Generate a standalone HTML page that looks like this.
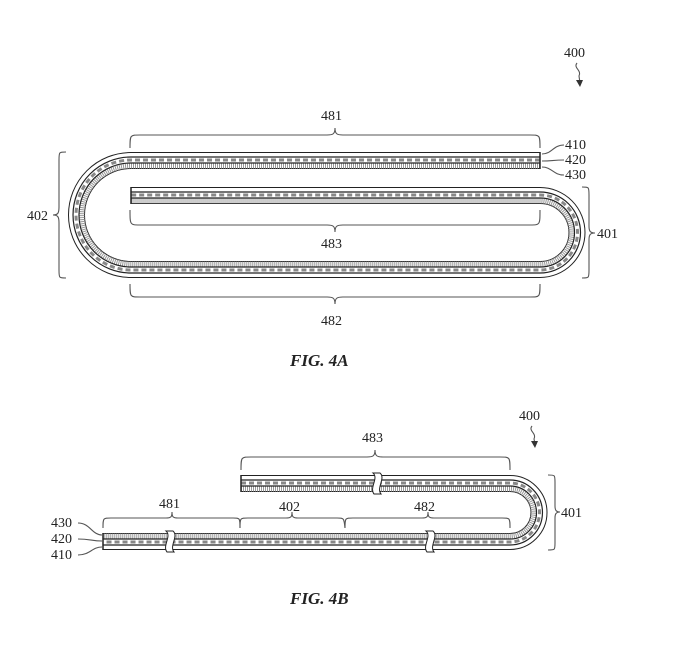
<!DOCTYPE html>
<html><head><meta charset="utf-8"><style>
html,body{margin:0;padding:0;background:#fff;}
svg{display:block;}
text{font-family:"Liberation Serif",serif;font-size:14px;fill:#222;}
.fig{font-style:italic;font-weight:bold;font-size:17px;}
.br{fill:none;stroke:#555;stroke-width:1.1;}
</style></head><body>
<svg width="691" height="659" viewBox="0 0 691 659" xmlns="http://www.w3.org/2000/svg">
<!-- FIG 4A strip -->
<g fill="none" stroke-linecap="butt">
<path d="M540 160.5 L131 160.5 A54.5 54.5 0 0 0 131 269.5 L540 269.5 A37 37 0 0 0 540 195.5 L131 195.5" stroke="#222" stroke-width="17"/>
<path d="M540 160.5 L131 160.5 A54.5 54.5 0 0 0 131 269.5 L540 269.5 A37 37 0 0 0 540 195.5 L131 195.5" stroke="#fff" stroke-width="15"/>
<path d="M540 160 L131 160 A55 55 0 0 0 131 270 L540 270 A37.5 37.5 0 0 0 540 195 L131 195" stroke="#888" stroke-width="3" stroke-dasharray="5 3"/>
<path d="M540 166 L131 166 A49 49 0 0 0 131 264 L540 264 A31.5 31.5 0 0 0 540 201 L131 201" stroke="#999" stroke-width="5" stroke-dasharray="1 1"/>
<path d="M540 157 L131 157 A58 58 0 0 0 131 273 L540 273 A40.5 40.5 0 0 0 540 192 L131 192" stroke="#222" stroke-width="1.2"/>
<path d="M540 163 L131 163 A52 52 0 0 0 131 267 L540 267 A34.5 34.5 0 0 0 540 198 L131 198" stroke="#222" stroke-width="1.2"/>
<line x1="540" y1="152" x2="540" y2="169" stroke="#222" stroke-width="1.5"/>
<line x1="131" y1="187" x2="131" y2="204" stroke="#222" stroke-width="1.5"/>
</g>
<!-- braces 4A -->
<path class="br" d="M130 148 C130 135,130 135,140 135 L327 135 C333 135,335 134,335 128 C335 134,337 135,343 135 L530 135 C540 135,540 135,540 148"/>
<path class="br" d="M130 210 C130 225,130 225,140 225 L327 225 C333 225,335 226,335 232 C335 226,337 225,343 225 L530 225 C540 225,540 225,540 210"/>
<path class="br" d="M130 284 C130 297,130 297,140 297 L327 297 C333 297,335 298,335 304 C335 298,337 297,343 297 L530 297 C540 297,540 297,540 284"/>
<path class="br" d="M66 152 C59 152,59 152,59 160 L59 207 C59 213,58 215,53 215 C58 215,59 217,59 223 L59 270 C59 278,59 278,66 278"/>
<path class="br" d="M582 187 C589 187,589 187,589 195 L589 226 C589 231,590 233,595 233 C590 233,589 235,589 240 L589 270 C589 278,589 278,582 278"/>
<text x="321" y="120">481</text>
<text x="321" y="248">483</text>
<text x="321" y="325">482</text>
<text x="27" y="220">402</text>
<text x="597" y="238">401</text>
<text x="565" y="149">410</text>
<text x="565" y="164">420</text>
<text x="565" y="179">430</text>
<path class="br" d="M542 154 C552 154,553 145,564 145 M542 161 C552 161,553 160,564 160 M542 167 C552 167,553 175,564 175"/>
<text x="564" y="57">400</text>
<path class="br" d="M577 63 C573 68,582 70,579 76 L580 83" stroke-width="1.2"/>
<path d="M576 80 L580 87 L583 80 Z" fill="#333"/>
<text class="fig" x="290" y="366">FIG. 4A</text>

<!-- FIG 4B strip -->
<g fill="none" stroke-linecap="butt">
<path d="M241 483.5 L510 483.5 A29 29 0 0 1 510 541.5 L103 541.5" stroke="#222" stroke-width="17"/>
<path d="M241 483.5 L510 483.5 A29 29 0 0 1 510 541.5 L103 541.5" stroke="#fff" stroke-width="15"/>
<path d="M241 483 L510 483 A29.5 29.5 0 0 1 510 542 L103 542" stroke="#888" stroke-width="3" stroke-dasharray="5 3"/>
<path d="M241 489 L510 489 A23.5 23.5 0 0 1 510 536 L103 536" stroke="#999" stroke-width="5" stroke-dasharray="1 1"/>
<path d="M241 480 L510 480 A32.5 32.5 0 0 1 510 545 L103 545" stroke="#222" stroke-width="1.2"/>
<path d="M241 486 L510 486 A26.5 26.5 0 0 1 510 539 L103 539" stroke="#222" stroke-width="1.2"/>
<line x1="241" y1="475" x2="241" y2="492" stroke="#222" stroke-width="1.5"/>
<line x1="103" y1="533" x2="103" y2="550" stroke="#222" stroke-width="1.5"/>
</g>
<!-- breaks -->
<g fill="#fff" stroke="#222" stroke-width="1">
<path d="M373 473 C379 478,369 488,374 494 L381 494 C376 488,386 478,380 473 Z"/>
<path d="M166 531 C172 536,162 546,167 552 L174 552 C169 546,179 536,173 531 Z"/>
<path d="M426 531 C432 536,422 546,427 552 L434 552 C429 546,439 536,433 531 Z"/>
</g>
<!-- braces 4B -->
<path class="br" d="M241 470 C241 457,241 457,251 457 L367 457 C373 457,375 456,375 450 C375 456,377 457,383 457 L500 457 C510 457,510 457,510 470"/>
<path class="br" d="M103 528 C103 518,103 518,111 518 L166 518 C171 518,172 517,172 512 C172 517,173 518,178 518 L233 518 C240 518,240 518,240 528"/>
<path class="br" d="M240 528 C240 518,240 518,248 518 L286 518 C291 518,292 517,292 512 C292 517,293 518,298 518 L337 518 C344 518,344 518,345 528"/>
<path class="br" d="M345 528 C345 518,345 518,353 518 L422 518 C427 518,428 517,428 512 C428 517,429 518,434 518 L502 518 C510 518,510 518,510 528"/>
<path class="br" d="M548 475 C555 475,555 475,555 482 L555 506 C555 510,556 512,560 512 C556 512,555 514,555 518 L555 543 C555 550,555 550,548 550"/>
<text x="362" y="442">483</text>
<text x="159" y="508">481</text>
<text x="279" y="511">402</text>
<text x="414" y="511">482</text>
<text x="561" y="517">401</text>
<text x="51" y="527">430</text>
<text x="51" y="543">420</text>
<text x="51" y="559">410</text>
<path class="br" d="M78 523 C90 523,92 535,102 535 M78 539 C90 539,92 541,102 541 M78 555 C90 555,92 547,102 547"/>
<text x="519" y="420">400</text>
<path class="br" d="M532 426 C528 431,537 433,534 439 L535 444" stroke-width="1.2"/>
<path d="M531 441 L535 448 L538 441 Z" fill="#333"/>
<text class="fig" x="290" y="604">FIG. 4B</text>
</svg>
</body></html>
